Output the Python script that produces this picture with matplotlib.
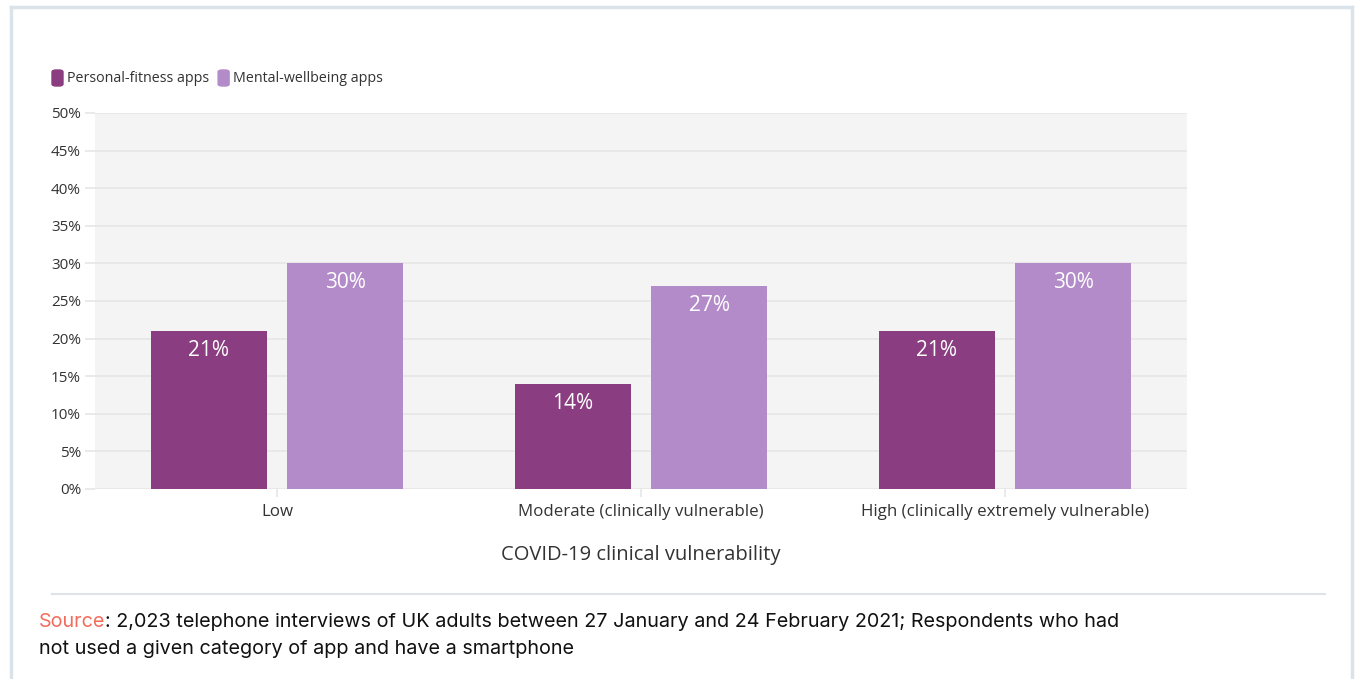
import matplotlib.pyplot as plt
from matplotlib.patches import FancyBboxPatch
from matplotlib.lines import Line2D
import numpy as np

# ---- data ----
categories = ['Low', 'Moderate (clinically vulnerable)', 'High (clinically extremely vulnerable)']
fitness = [21, 14, 21]
wellbeing = [30, 27, 30]
series_names = ['Personal-fitness apps', 'Mental-wellbeing apps']
yticks = [0, 5, 10, 15, 20, 25, 30, 35, 40, 45, 50]

c_fit = '#8a3d80'
c_well = '#b38bc9'
grid_c = '#e6e6e6'
font = 'Open Sans'

W, H = 1355, 679
fig = plt.figure(figsize=(W / 100, H / 100), dpi=100)

# outer card border (top, left, right)
fig.add_artist(Line2D([11 / W, 11 / W], [0, 1 - 7 / H], color='#dbe3ea', lw=2.5))
fig.add_artist(Line2D([11 / W, 1352 / W], [1 - 7 / H, 1 - 7 / H], color='#dbe3ea', lw=2.5))
fig.add_artist(Line2D([1352 / W, 1352 / W], [0, 1 - 7 / H], color='#dbe3ea', lw=2.5))

ax = fig.add_axes([95 / W, 1 - 489 / H, (1187 - 95) / W, (489 - 113) / H])
ax.set_facecolor('#f4f4f4')

x = np.arange(len(categories))
bw = 0.318
off = 0.187
b1 = ax.bar(x - off, fitness, bw, color=c_fit, zorder=3)
b2 = ax.bar(x + off, wellbeing, bw, color=c_well, zorder=3)

# value labels just inside the top of each bar
for bars, vals in [(b1, fitness), (b2, wellbeing)]:
    for b, v in zip(bars, vals):
        ax.text(b.get_x() + b.get_width() / 2, v - 2.6, f'{v}%', ha='center', va='center',
                color='white', fontsize=15, family=font, zorder=4)

ax.set_xlim(-0.5, 2.5)
ax.set_ylim(0, 50)
ax.set_yticks(yticks)
ax.set_yticklabels([f'{t}%' for t in yticks], fontsize=11, family=font, color='#333333')
ax.set_xticks(x)
ax.set_xticklabels(categories, fontsize=12.2, family=font, color='#333333')
ax.tick_params(axis='y', length=7, color=grid_c, width=1.2, pad=3)
ax.tick_params(axis='x', length=6, color=grid_c, width=1.2, pad=5)
ax.grid(axis='y', color=grid_c, lw=1.2, zorder=0)
for s in ax.spines.values():
    s.set_visible(False)
ax.set_xlabel('COVID-19 clinical vulnerability', fontsize=14.5, family=font,
              color='#333333', labelpad=18)

# legend
lx = 52
for name, col in zip(series_names, [c_fit, c_well]):
    fig.add_artist(FancyBboxPatch((lx / W, 1 - 86 / H), 11 / W, 16 / H,
                                  boxstyle='round,pad=0,rounding_size=0.003',
                                  transform=fig.transFigure, color=col))
    t = fig.text((lx + 15) / W, 1 - 78 / H, name, fontsize=10.3, family=font,
                 color='#333333', va='center')
    fig.canvas.draw()
    bb = t.get_window_extent()
    lx = bb.x1 + 9

# separator and source note
fig.add_artist(Line2D([52 / W, 1325 / W], [1 - 594 / H, 1 - 594 / H], color='#dde3e8', lw=1.5))
src = fig.text(39 / W, 1 - 622 / H, 'Source', fontsize=14.25, family='Inter',
               color='#f26b5b', va='center')
fig.canvas.draw()
sb = src.get_window_extent()
fig.text(sb.x1 / W, 1 - 622 / H,
         ': 2,023 telephone interviews of UK adults between 27 January and 24 February 2021; Respondents who had',
         fontsize=14.25, family='Inter', color='#111111', va='center')
fig.text(39 / W, 1 - 649 / H, 'not used a given category of app and have a smartphone',
         fontsize=14.25, family='Inter', color='#111111', va='center')

fig.savefig('out.png', dpi=100)
